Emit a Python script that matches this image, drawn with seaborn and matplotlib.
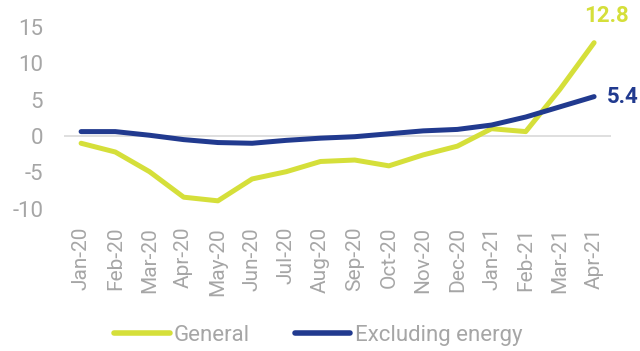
import matplotlib
matplotlib.use("Agg")
import matplotlib.pyplot as plt
import seaborn as sns
import pandas as pd
from matplotlib.lines import Line2D

months = ["Jan-20", "Feb-20", "Mar-20", "Apr-20", "May-20", "Jun-20", "Jul-20", "Aug-20",
          "Sep-20", "Oct-20", "Nov-20", "Dec-20", "Jan-21", "Feb-21", "Mar-21", "Apr-21"]
general = [-1.0, -2.2, -4.9, -8.4, -8.9, -5.9, -4.9, -3.5, -3.3, -4.1, -2.6, -1.4, 1.0, 0.6, 6.4, 12.8]
excl_energy = [0.6, 0.6, 0.1, -0.5, -0.9, -1.0, -0.6, -0.3, -0.1, 0.3, 0.7, 0.9, 1.5, 2.6, 4.0, 5.4]
series_names = ["General", "Excluding energy"]
colors = ["#d5df3a", "#213a8f"]
yticks = [-10, -5, 0, 5, 10, 15]

df = pd.DataFrame({
    "month": months * 2,
    "idx": list(range(len(months))) * 2,
    "value": general + excl_energy,
    "series": [series_names[0]] * len(months) + [series_names[1]] * len(months),
})

sns.set_theme(style="white")
plt.rcParams["font.family"] = ["Roboto", "DejaVu Sans"]
gray = "#a6a6a6"

fig = plt.figure(figsize=(6.4, 3.51), dpi=100)
ax = fig.add_axes([0.1, 0.405, 0.855, 0.519])

ax.axhline(0, color="#d9d9d9", lw=1.2, zorder=0)
sns.lineplot(data=df, x="idx", y="value", hue="series", palette=colors,
             hue_order=series_names, lw=3.6, ax=ax, legend=False, sort=False)
for ln in ax.get_lines()[1:]:
    ln.set_solid_capstyle("round")
    ln.set_solid_joinstyle("round")

ax.set_xlim(-0.5, len(months) - 0.5)
ax.set_ylim(-10, 15)
ax.set_yticks(yticks)
ax.set_yticklabels([str(t) for t in yticks], color=gray, fontsize=16)
ax.set_xticks(range(len(months)))
ax.set_xticklabels(months, rotation=90, color=gray, fontsize=15)
ax.tick_params(axis="y", length=0, pad=15)
ax.tick_params(axis="x", length=0, pad=13)
ax.set_xlabel("")
ax.set_ylabel("")
for s in ax.spines.values():
    s.set_visible(False)

ax.annotate(f"{general[-1]}", (len(months) - 1, general[-1]), xytext=(9, 11),
            textcoords="offset points", color=colors[0], fontsize=16, fontweight="bold",
            ha="center", va="bottom", annotation_clip=False)
ax.annotate(f"{excl_energy[-1]}", (len(months) - 1, excl_energy[-1]), xytext=(9, 0),
            textcoords="offset points", color=colors[1], fontsize=16, fontweight="bold",
            ha="left", va="center", annotation_clip=False)

handles = [Line2D([0], [0], color=c, lw=4, solid_capstyle="round") for c in colors]
leg = fig.legend(handles, series_names, loc="center", bbox_to_anchor=(0.497, 0.045), ncol=2,
                 frameon=False, fontsize=16, handlelength=2.5, handletextpad=0.2,
                 columnspacing=2.0)
for t in leg.get_texts():
    t.set_color(gray)

fig.savefig("out.png", dpi=100)
